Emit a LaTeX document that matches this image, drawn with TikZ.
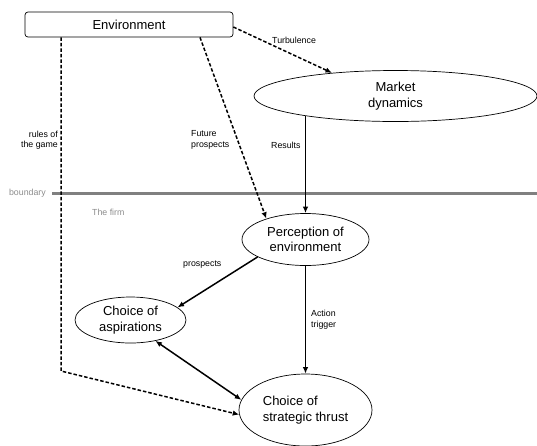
\documentclass[tikz,border=0pt]{standalone}
\usepackage{fontspec}
\setmainfont{Liberation Sans}
\usetikzlibrary{shapes.geometric,arrows.meta}
\begin{document}
\begin{tikzpicture}[x=1pt,y=-1pt,
  envbox/.style={draw,rounded corners=3pt,minimum width=208pt,minimum height=25pt,inner sep=0pt,line width=0.7pt,font=\fontsize{13}{15.5}\selectfont},
  ell/.style={ellipse,draw,inner sep=0pt,line width=0.7pt,align=center,font=\fontsize{13}{15.5}\selectfont},
  lbl/.style={inner sep=0pt,font=\fontsize{8.8}{10.5}\selectfont},
  graylbl/.style={lbl,text=black!45},
  tip/.style={-{Latex[length=6.5pt,width=5.5pt]}},
  solidarrow/.style={line width=1.5pt,tip},
  dasharrow/.style={line width=1.5pt,dash pattern=on 3.5pt off 2pt,tip},
  boundaryline/.style={line width=3pt,draw=black!50}
]
\useasboundingbox (0,0) rectangle (537,445);

% nodes
\node[envbox] (env) at (129,24.5) {Environment};
\node[ell,minimum width=283pt,minimum height=51pt] (market) at (395.5,96) {Market\\dynamics};
\node[ell,minimum width=127pt,minimum height=52pt] (perc) at (305.5,239.5) {Perception of\\environment};
\node[ell,minimum width=111pt,minimum height=46pt] (asp) at (130.5,320) {Choice of\\aspirations};
\node[ell,minimum width=133pt,minimum height=72pt,align=left] (thrust) at (305.5,410) {Choice of\\strategic thrust};

% boundary
\node[graylbl,anchor=east] (bnd) at (46,193) {boundary};
\coordinate (bR) at (537,193);
\draw[boundaryline] ([xshift=6pt]bnd.east) -- (bR);
\node[graylbl,anchor=west] (firm) at (92,212) {The firm};

% labels
\node[lbl,anchor=west] (turb) at (272,40) {Turbulence};
\node[lbl,anchor=west,align=left] (futp) at (191,140) {Future\\prospects};
\node[lbl,anchor=east,align=right] (rules) at (58,140) {rules of\\the game};
\node[lbl,anchor=west] (res) at (271,145) {Results};
\node[lbl,anchor=west] (prosp) at (183,265) {prospects};
\node[lbl,anchor=west,align=left] (act) at (311,319.5) {Action\\trigger};

% connectors
\draw[dasharrow] ([yshift=-2.5pt]env.east) -- (market.160.6);
\draw[solidarrow] (perc.north |- market.192) -- (perc.north);
\draw[dasharrow] ([xshift=71pt]env.south) -- (perc.152);
\draw[solidarrow] (perc.south) -- (thrust.north);
\draw[solidarrow] (perc.200.6) -- (asp.15);
\draw[line width=1.5pt,{Latex[length=6.5pt,width=5.5pt]}-{Latex[length=6.5pt,width=5.5pt]}] (asp.-40) -- (thrust.171);
\coordinate (rk) at (61,371);
\draw[dasharrow] ([xshift=-68pt]env.south) -- (rk) -- (thrust.184);
\end{tikzpicture}
\end{document}
